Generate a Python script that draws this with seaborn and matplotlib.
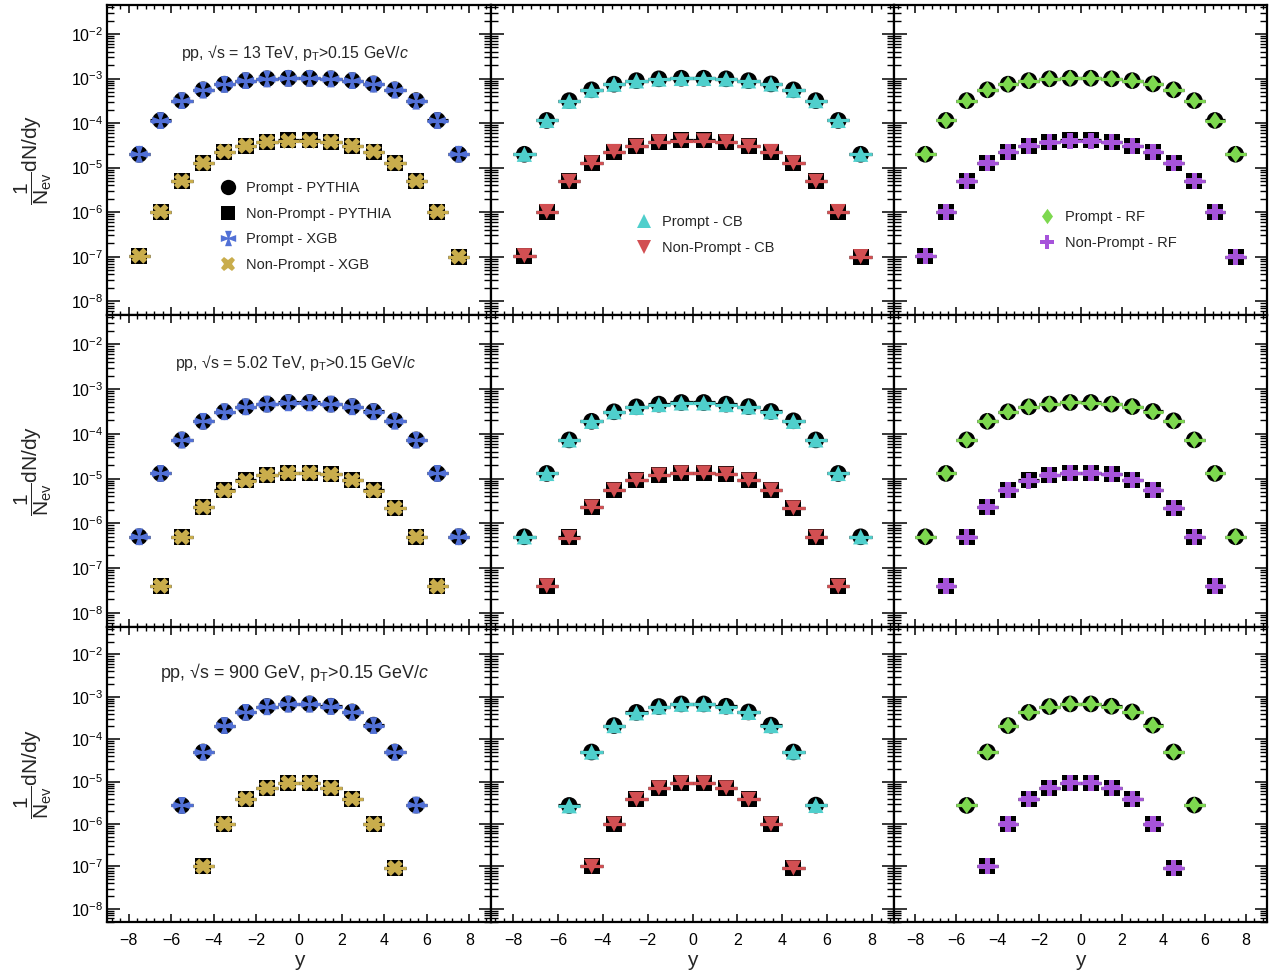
import numpy as np
import matplotlib
matplotlib.use("Agg")
import matplotlib.pyplot as plt
import seaborn as sns
from matplotlib.path import Path
from matplotlib.lines import Line2D
from matplotlib.ticker import (LogLocator, MultipleLocator, NullFormatter,
                               LogFormatterSciNotation, FixedLocator)

sns.set_style("ticks")
plt.rcParams["font.family"] = ["Liberation Sans", "DejaVu Sans"]
plt.rcParams["mathtext.fontset"] = "custom"
plt.rcParams["mathtext.rm"] = "Liberation Sans"
plt.rcParams["mathtext.it"] = "Liberation Sans:italic"
plt.rcParams["mathtext.bf"] = "Liberation Sans:bold"
plt.rcParams["mathtext.sf"] = "Liberation Sans"

# ---------------- rapidity bin centres ----------------
y_13 = [-7.5, -6.5, -5.5, -4.5, -3.5, -2.5, -1.5, -0.5, 0.5, 1.5, 2.5, 3.5, 4.5, 5.5, 6.5, 7.5]
y_5_prompt = [-7.5, -6.5, -5.5, -4.5, -3.5, -2.5, -1.5, -0.5, 0.5, 1.5, 2.5, 3.5, 4.5, 5.5, 6.5, 7.5]
y_5_nonprompt = [-6.5, -5.5, -4.5, -3.5, -2.5, -1.5, -0.5, 0.5, 1.5, 2.5, 3.5, 4.5, 5.5, 6.5]
y_900_prompt = [-5.5, -4.5, -3.5, -2.5, -1.5, -0.5, 0.5, 1.5, 2.5, 3.5, 4.5, 5.5]
y_900_nonprompt = [-4.5, -3.5, -2.5, -1.5, -0.5, 0.5, 1.5, 2.5, 3.5, 4.5]

# ---------------- pp 13 TeV ----------------
prompt_13_pythia = [2.0e-5, 1.15e-4, 3.2e-4, 5.6e-4, 7.5e-4, 9.0e-4, 9.9e-4, 1.02e-3,
                    1.02e-3, 9.9e-4, 9.0e-4, 7.6e-4, 5.6e-4, 3.2e-4, 1.15e-4, 2.0e-5]
prompt_13_xgb = [2.0e-5, 1.14e-4, 3.2e-4, 5.5e-4, 7.4e-4, 9.0e-4, 9.8e-4, 1.01e-3,
                 1.01e-3, 9.8e-4, 9.0e-4, 7.5e-4, 5.5e-4, 3.1e-4, 1.14e-4, 2.0e-5]
prompt_13_cb = [2.0e-5, 1.15e-4, 3.1e-4, 5.5e-4, 7.5e-4, 8.9e-4, 9.8e-4, 1.01e-3,
                1.01e-3, 9.8e-4, 8.9e-4, 7.6e-4, 5.5e-4, 3.2e-4, 1.15e-4, 2.0e-5]
prompt_13_rf = [2.0e-5, 1.15e-4, 3.2e-4, 5.6e-4, 7.4e-4, 9.0e-4, 9.9e-4, 1.02e-3,
                1.01e-3, 9.9e-4, 9.0e-4, 7.6e-4, 5.6e-4, 3.2e-4, 1.14e-4, 2.0e-5]
nonprompt_13_pythia = [1.05e-7, 1.03e-6, 5.0e-6, 1.28e-5, 2.3e-5, 3.1e-5, 3.8e-5, 4.1e-5,
                       4.1e-5, 3.8e-5, 3.1e-5, 2.3e-5, 1.28e-5, 5.0e-6, 1.03e-6, 1.0e-7]
nonprompt_13_xgb = [1.05e-7, 1.02e-6, 5.0e-6, 1.27e-5, 2.3e-5, 3.1e-5, 3.8e-5, 4.0e-5,
                    4.0e-5, 3.8e-5, 3.1e-5, 2.3e-5, 1.27e-5, 5.0e-6, 1.02e-6, 1.0e-7]
nonprompt_13_cb = [1.05e-7, 1.03e-6, 4.9e-6, 1.28e-5, 2.3e-5, 3.0e-5, 3.8e-5, 4.0e-5,
                   4.0e-5, 3.8e-5, 3.0e-5, 2.3e-5, 1.28e-5, 4.9e-6, 1.03e-6, 1.0e-7]
nonprompt_13_rf = [1.05e-7, 1.03e-6, 5.0e-6, 1.28e-5, 2.3e-5, 3.1e-5, 3.7e-5, 4.0e-5,
                   4.0e-5, 3.7e-5, 3.1e-5, 2.3e-5, 1.28e-5, 5.0e-6, 1.03e-6, 1.0e-7]

# ---------------- pp 5.02 TeV ----------------
prompt_5_pythia = [5.0e-7, 1.3e-5, 7.3e-5, 1.9e-4, 3.1e-4, 4.0e-4, 4.6e-4, 5.0e-4,
                   5.0e-4, 4.6e-4, 4.05e-4, 3.15e-4, 1.95e-4, 7.3e-5, 1.3e-5, 5.0e-7]
prompt_5_xgb = [5.0e-7, 1.3e-5, 7.2e-5, 1.9e-4, 3.1e-4, 4.0e-4, 4.6e-4, 4.9e-4,
                4.9e-4, 4.6e-4, 4.0e-4, 3.1e-4, 1.9e-4, 7.2e-5, 1.3e-5, 5.0e-7]
prompt_5_cb = [5.0e-7, 1.3e-5, 7.3e-5, 1.9e-4, 3.1e-4, 3.9e-4, 4.5e-4, 4.9e-4,
               4.9e-4, 4.5e-4, 4.0e-4, 3.1e-4, 1.9e-4, 7.3e-5, 1.3e-5, 5.0e-7]
prompt_5_rf = [5.0e-7, 1.3e-5, 7.3e-5, 1.9e-4, 3.1e-4, 4.0e-4, 4.6e-4, 5.0e-4,
               4.9e-4, 4.6e-4, 4.0e-4, 3.1e-4, 1.9e-4, 7.3e-5, 1.3e-5, 5.0e-7]
nonprompt_5_pythia = [4.0e-8, 4.9e-7, 2.3e-6, 5.5e-6, 9.1e-6, 1.2e-5, 1.35e-5,
                      1.35e-5, 1.25e-5, 9.3e-6, 5.5e-6, 2.2e-6, 5.0e-7, 3.9e-8]
nonprompt_5_xgb = [4.0e-8, 4.9e-7, 2.3e-6, 5.4e-6, 9.0e-6, 1.2e-5, 1.34e-5,
                   1.34e-5, 1.24e-5, 9.2e-6, 5.4e-6, 2.2e-6, 5.0e-7, 3.9e-8]
nonprompt_5_cb = [4.0e-8, 4.8e-7, 2.3e-6, 5.5e-6, 9.1e-6, 1.19e-5, 1.33e-5,
                  1.33e-5, 1.24e-5, 9.2e-6, 5.5e-6, 2.2e-6, 4.9e-7, 3.9e-8]
nonprompt_5_rf = [4.0e-8, 4.9e-7, 2.3e-6, 5.5e-6, 9.0e-6, 1.2e-5, 1.34e-5,
                  1.34e-5, 1.25e-5, 9.2e-6, 5.5e-6, 2.2e-6, 5.0e-7, 3.9e-8]

# ---------------- pp 900 GeV ----------------
prompt_900_pythia = [2.75e-6, 5.0e-5, 2.1e-4, 4.3e-4, 5.9e-4, 6.8e-4,
                     6.8e-4, 6.0e-4, 4.4e-4, 2.15e-4, 5.0e-5, 2.8e-6]
prompt_900_xgb = [2.75e-6, 4.9e-5, 2.1e-4, 4.3e-4, 5.8e-4, 6.7e-4,
                  6.7e-4, 5.9e-4, 4.3e-4, 2.1e-4, 4.9e-5, 2.8e-6]
prompt_900_cb = [2.7e-6, 5.0e-5, 2.1e-4, 4.2e-4, 5.8e-4, 6.7e-4,
                 6.7e-4, 5.9e-4, 4.3e-4, 2.1e-4, 5.0e-5, 2.75e-6]
prompt_900_rf = [2.75e-6, 5.0e-5, 2.1e-4, 4.3e-4, 5.9e-4, 6.8e-4,
                 6.8e-4, 5.9e-4, 4.4e-4, 2.1e-4, 5.0e-5, 2.8e-6]
nonprompt_900_pythia = [1.0e-7, 1.0e-6, 3.9e-6, 7.2e-6, 9.5e-6,
                        9.5e-6, 7.2e-6, 3.9e-6, 1.0e-6, 9.2e-8]
nonprompt_900_xgb = [1.0e-7, 1.0e-6, 3.9e-6, 7.1e-6, 9.4e-6,
                     9.4e-6, 7.1e-6, 3.9e-6, 1.0e-6, 9.2e-8]
nonprompt_900_cb = [1.0e-7, 1.0e-6, 3.8e-6, 7.1e-6, 9.3e-6,
                    9.3e-6, 7.1e-6, 3.8e-6, 1.0e-6, 9.2e-8]
nonprompt_900_rf = [1.0e-7, 1.0e-6, 3.9e-6, 7.2e-6, 9.4e-6,
                    9.4e-6, 7.2e-6, 3.9e-6, 1.0e-6, 9.2e-8]

energy_labels = [
    "pp, √s = 13 TeV, p$_{\\mathrm{T}}$>0.15 GeV/$\\mathit{c}$",
    "pp, √s = 5.02 TeV, p$_{\\mathrm{T}}$>0.15 GeV/$\\mathit{c}$",
    "pp, √s = 900 GeV, p$_{\\mathrm{T}}$>0.15 GeV/$\\mathit{c}$",
]
model_names = ["XGB", "CB", "RF"]
decades = [1e-8, 1e-7, 1e-6, 1e-5, 1e-4, 1e-3, 1e-2]

rows = [
    dict(yp=y_13, yn=y_13,
         prompt=[prompt_13_pythia, prompt_13_xgb, prompt_13_cb, prompt_13_rf],
         nonprompt=[nonprompt_13_pythia, nonprompt_13_xgb, nonprompt_13_cb, nonprompt_13_rf]),
    dict(yp=y_5_prompt, yn=y_5_nonprompt,
         prompt=[prompt_5_pythia, prompt_5_xgb, prompt_5_cb, prompt_5_rf],
         nonprompt=[nonprompt_5_pythia, nonprompt_5_xgb, nonprompt_5_cb, nonprompt_5_rf]),
    dict(yp=y_900_prompt, yn=y_900_nonprompt,
         prompt=[prompt_900_pythia, prompt_900_xgb, prompt_900_cb, prompt_900_rf],
         nonprompt=[nonprompt_900_pythia, nonprompt_900_xgb, nonprompt_900_cb, nonprompt_900_rf]),
]


# ---------------- marker shapes ----------------
def inward_cross():
    w, c = 0.45, 0.13
    verts = [(-w, 1), (w, 1), (c, c), (1, w), (1, -w), (c, -c),
             (w, -1), (-w, -1), (-c, -c), (-1, -w), (-1, w), (-c, c), (-w, 1)]
    codes = [Path.MOVETO] + [Path.LINETO] * 11 + [Path.CLOSEPOLY]
    return Path(verts, codes)


def full_diamond():
    verts = [(0, 1), (0.72, 0), (0, -1), (-0.72, 0), (0, 1)]
    codes = [Path.MOVETO] + [Path.LINETO] * 3 + [Path.CLOSEPOLY]
    return Path(verts, codes)


# per-model prompt / non-prompt styles: (marker, size_pt, colour)
prompt_style = {
    "XGB": (inward_cross(), 12.0, "#5170d6"),
    "CB": ("^", 11.0, "#4fcfcc"),
    "RF": (full_diamond(), 12.0, "#7dd84f"),
}
nonprompt_style = {
    "XGB": ("X", 11.5, "#c9ad4c"),
    "CB": ("v", 11.0, "#d24f52"),
    "RF": ("P", 11.5, "#a653da"),
}
pythia_prompt_style = ("o", 12.0, "black")
pythia_nonprompt_style = ("s", 11.5, "black")

W, H = 1279, 977
fig = plt.figure(figsize=(W / 100, H / 100), dpi=100)
col_px = [(107.3, 490.7), (490.7, 894.3), (894.3, 1266.7)]
row_px = [(5, 315), (315, 626.7), (626.7, 922)]

LEG = 10.5


def draw(ax, xs, ys, style, z):
    m, sz, col = style
    sns.scatterplot(x=xs, y=ys, ax=ax, marker=m, s=sz ** 2, color=col,
                    edgecolor="none", linewidth=0, zorder=z, legend=False, clip_on=False)


def hbars(ax, xs, ys, col, z):
    ax.errorbar(xs, ys, xerr=0.5, fmt="none", ecolor=col, elinewidth=2.3, capsize=0, zorder=z)


for r, (top, bot) in enumerate(row_px):
    data = rows[r]
    for c, (left, right) in enumerate(col_px):
        ax = fig.add_axes([left / W, 1 - bot / H, (right - left) / W, (bot - top) / H])
        model = model_names[c]
        ax.set_yscale("log")
        ax.set_xlim(-9, 9)
        ax.set_ylim(4.9e-9, 4.5e-2)

        # PYTHIA reference (black) underneath
        hbars(ax, data["yp"], data["prompt"][0], "black", 2)
        hbars(ax, data["yn"], data["nonprompt"][0], "black", 2)
        draw(ax, data["yp"], data["prompt"][0], pythia_prompt_style, 3)
        draw(ax, data["yn"], data["nonprompt"][0], pythia_nonprompt_style, 3)

        # model predictions on top
        pc = prompt_style[model][2]
        nc = nonprompt_style[model][2]
        hbars(ax, data["yp"], data["prompt"][c + 1], pc, 4)
        hbars(ax, data["yn"], data["nonprompt"][c + 1], nc, 4)
        draw(ax, data["yp"], data["prompt"][c + 1], prompt_style[model], 5)
        draw(ax, data["yn"], data["nonprompt"][c + 1], nonprompt_style[model], 5)

        # axes styling
        for sp in ax.spines.values():
            sp.set_linewidth(1.6)
            sp.set_color("black")
            sp.set_zorder(10)
        ax.xaxis.set_major_locator(MultipleLocator(2))
        ax.xaxis.set_minor_locator(MultipleLocator(0.4))
        ax.yaxis.set_major_locator(FixedLocator(decades))
        ax.yaxis.set_minor_locator(LogLocator(base=10, subs=np.arange(2, 10), numticks=15))
        ax.yaxis.set_minor_formatter(NullFormatter())
        ax.tick_params(which="both", direction="in", top=True, right=True,
                       colors="black", labelsize=11.5)
        ax.tick_params(axis="x", which="major", length=6.0, width=1.1, pad=8)
        ax.tick_params(axis="x", which="minor", length=3.0, width=1.0)
        ax.tick_params(axis="y", which="major", length=9.0, width=1.1, pad=3)
        ax.tick_params(axis="y", which="minor", length=5.0, width=1.0)
        if c == 0:
            ax.yaxis.set_major_formatter(LogFormatterSciNotation())
        else:
            ax.tick_params(axis="y", labelleft=False)
        if r == 2:
            ax.set_xlabel("y", fontsize=15, labelpad=2)
        else:
            ax.tick_params(axis="x", labelbottom=False)

        if c == 0:
            ax.text(0.49, 0.845, energy_labels[r], transform=ax.transAxes,
                    ha="center", va="center", fontsize=11.4 if r < 2 else 12.9)

        # legends in the top row
        if r == 0:
            if c == 0:
                entries = [(pythia_prompt_style, "Prompt - PYTHIA"),
                           (pythia_nonprompt_style, "Non-Prompt - PYTHIA"),
                           (prompt_style[model], f"Prompt - {model}"),
                           (nonprompt_style[model], f"Non-Prompt - {model}")]
                anchor = (0.2966, 0.432)
            elif c == 1:
                entries = [(prompt_style[model], f"Prompt - {model}"),
                           (nonprompt_style[model], f"Non-Prompt - {model}")]
                anchor = (0.3625, 0.322)
            else:
                entries = [(prompt_style[model], f"Prompt - {model}"),
                           (nonprompt_style[model], f"Non-Prompt - {model}")]
                anchor = (0.391, 0.338)
            handles = [Line2D([], [], linestyle="none", marker=st[0], markersize=st[1] * 0.92,
                              markerfacecolor=st[2], markeredgewidth=0) for st, _ in entries]
            labels = [lab for _, lab in entries]
            ax.legend(handles, labels, loc="upper left", bbox_to_anchor=anchor,
                      frameon=False, fontsize=LEG, handlelength=1.0, handletextpad=0.7,
                      labelspacing=0.8, borderpad=0, borderaxespad=0)

# shared y-axis title per row
ytitle = r"$\dfrac{1}{\mathrm{N}_{\mathrm{ev}}}$dN/dy"
for top, bot in row_px:
    fig.text(33 / W, 1 - (top + bot) / 2 / H, ytitle, rotation=90,
             ha="center", va="center", fontsize=15)

fig.savefig("out.png", dpi=100)
